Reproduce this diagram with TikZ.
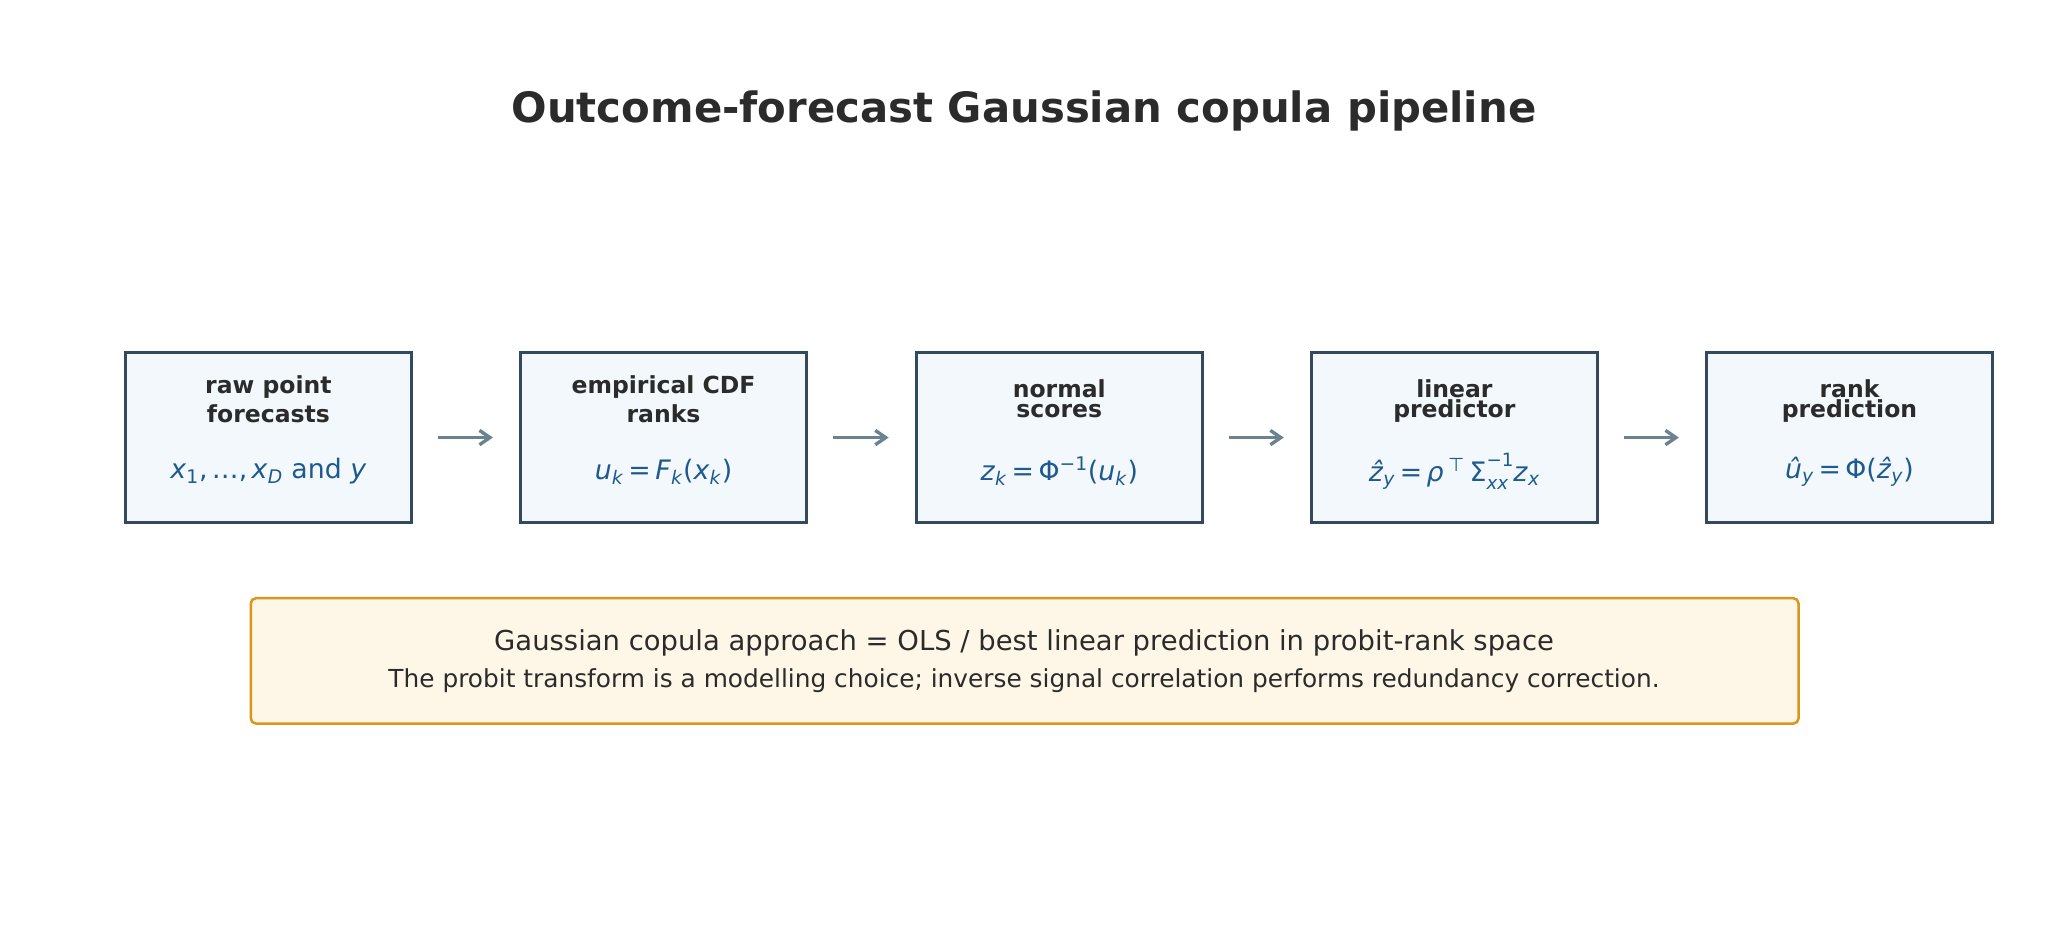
\documentclass[tikz,border=0pt]{standalone}
\usepackage{fontspec}
\setmainfont{DejaVu Sans}
\usetikzlibrary{arrows.meta}
\definecolor{titlec}{HTML}{2B2B2B}
\definecolor{boxdraw}{HTML}{34495E}
\definecolor{boxfill}{HTML}{F3F8FC}
\definecolor{mathc}{HTML}{1F5A8F}
\definecolor{arrowc}{HTML}{6B8290}
\definecolor{notedraw}{HTML}{D9961A}
\definecolor{notefill}{HTML}{FEF7E8}
\newcommand\mi[1]{\textit{#1}}
\newcommand\subs[1]{\textsubscript{#1}}
\newcommand\supsub[2]{\setbox0\hbox{\raisebox{0.55em}{\fontsize{14}{16}\selectfont #1}}\setbox2\hbox{\raisebox{-0.32em}{\fontsize{14}{16}\selectfont #2}}\ifdim\wd0>\wd2 \rlap{\box2}\box0 \else\rlap{\box0}\box2\fi}
\tikzset{
  stagebox/.style={draw=boxdraw, fill=boxfill, line width=2.2pt, minimum width=219pt, minimum height=130pt, inner sep=0pt},
  stagetitle/.style={font=\fontsize{18}{20}\selectfont\bfseries, text=titlec, inner sep=0pt, anchor=center},
  stagemath/.style={font=\fontsize{20.5}{24}\selectfont, text=mathc, inner sep=0pt, anchor=center},
  flow/.style={draw=arrowc, line width=2.6pt, -{Straight Barb[length=8pt,width=11pt,line width=2.6pt]}, shorten <=19pt, shorten >=20pt},
  notebox/.style={draw=notedraw, fill=notefill, line width=1.9pt, rounded corners=4pt, minimum width=1185pt, minimum height=96pt, inner sep=0pt},
}
\begin{document}
\begin{tikzpicture}[x=1pt,y=-1pt]
\useasboundingbox (0,0) rectangle (1568,709);
\node[font=\fontsize{32}{36}\selectfont\bfseries, text=titlec, inner sep=0pt] (title) at (784,85) {Outcome-forecast Gaussian copula pipeline};

\node[stagebox] (b1) at (205.5,335) {};
\node[stagebox] (b2) at (508,335) {};
\node[stagebox] (b3) at (811,335) {};
\node[stagebox] (b4) at (1113.5,335) {};
\node[stagebox] (b5) at (1416,335) {};

\node[stagetitle] (t1a) at (205.5,296) {raw point};
\node[stagetitle] (t1b) at (205.5,317) {forecasts};
\node[stagetitle] (t2a) at (508,296) {empirical CDF};
\node[stagetitle] (t2b) at (508,317) {ranks};
\node[stagetitle] (t3a) at (811,298) {normal};
\node[stagetitle] (t3b) at (811,315) {scores};
\node[stagetitle] (t4a) at (1113.5,298) {linear};
\node[stagetitle] (t4b) at (1113.5,315) {predictor};
\node[stagetitle] (t5a) at (1416,298) {rank};
\node[stagetitle] (t5b) at (1416,315) {prediction};

\node[stagemath] (m1) at (205.5,361) {\mi{x}\subs{1},\,…,\,\mi{x}\subs{\mi{D}} and \mi{y}};
\node[stagemath] (m2) at (508,361) {\mi{u}\subs{\mi{k}}\,=\,\mi{F}\subs{\mi{k}}(\mi{x}\subs{\mi{k}})};
\node[stagemath] (m3) at (811,361) {\mi{z}\subs{\mi{k}}\,=\,Φ\textsuperscript{−1}(\mi{u}\subs{\mi{k}})};
\node[stagemath] (m4) at (1113.5,361) {\mi{ẑ}\subs{\mi{y}}\,=\,\mi{ρ}\,\textsuperscript{⊤}\,Σ\supsub{−1}{\mi{xx}}\mi{z}\subs{\mi{x}}};
\node[stagemath] (m5) at (1416,361) {\mi{û}\subs{\mi{y}}\,=\,Φ(\mi{ẑ}\subs{\mi{y}})};

\draw[flow] (b1.east) -- (b2.west);
\draw[flow] (b2.east) -- (b3.west);
\draw[flow] (b3.east) -- (b4.west);
\draw[flow] (b4.east) -- (b5.west);

\node[notebox] (note) at (784.5,506) {};
\node[font=\fontsize{21}{24}\selectfont, text=titlec, inner sep=0pt] (n1) at (784,492) {Gaussian copula approach = OLS / best linear prediction in probit-rank space};
\node[font=\fontsize{19}{22}\selectfont, text=titlec, inner sep=0pt] (n2) at (784,521) {The probit transform is a modelling choice; inverse signal correlation performs redundancy correction.};
\end{tikzpicture}
\end{document}
